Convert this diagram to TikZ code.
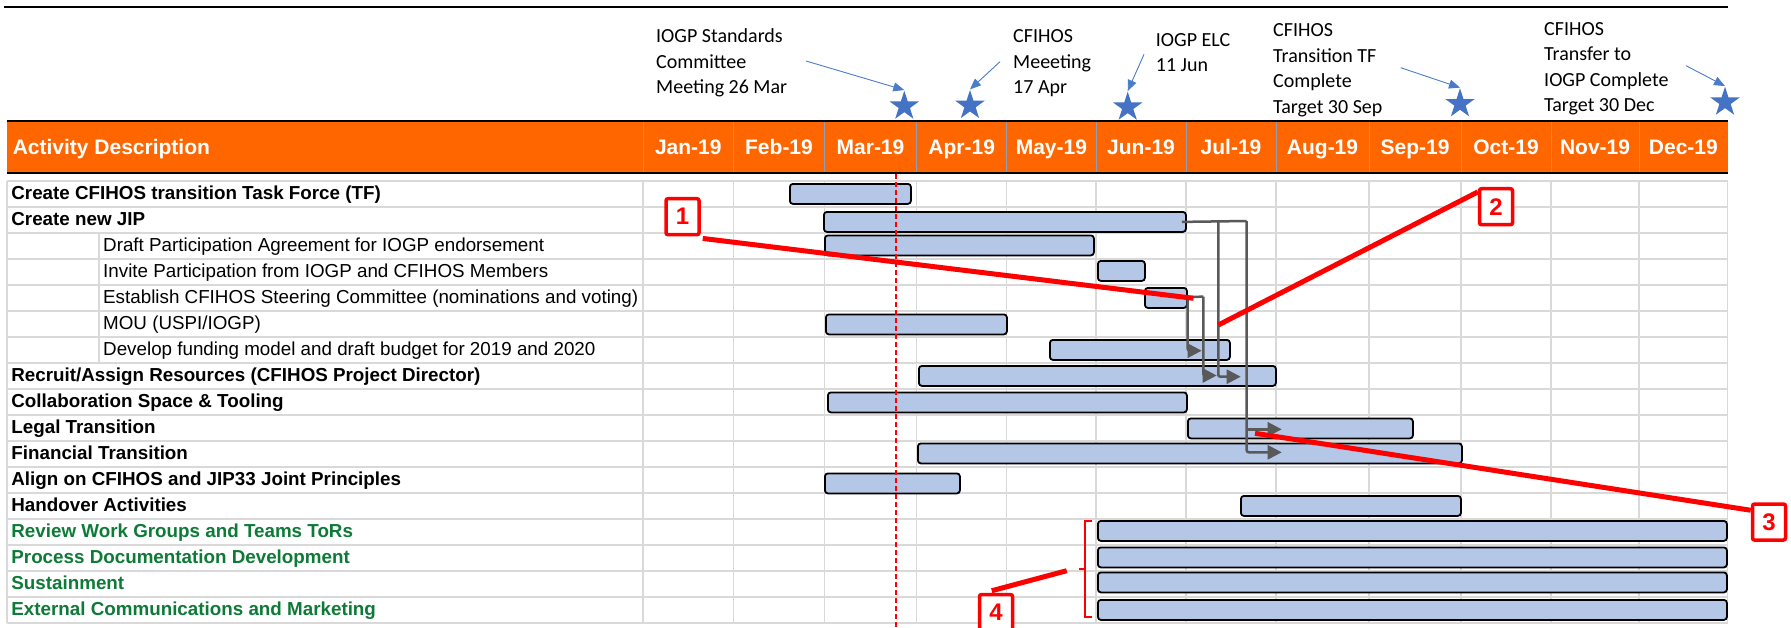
\documentclass[tikz,border=0pt]{standalone}
\usepackage{fontspec}
\setmainfont{Liberation Sans}
\newfontfamily\calfont{Carlito}
\usetikzlibrary{shapes.geometric,arrows.meta}
\definecolor{hdr}{HTML}{FF6600}
\definecolor{barfill}{HTML}{B4C7E7}
\definecolor{starblue}{HTML}{4472C4}
\definecolor{annblue}{HTML}{4A7CCB}
\definecolor{depgray}{HTML}{595959}
\definecolor{gridc}{HTML}{D9D9D9}
\definecolor{taskgreen}{HTML}{0E7A37}
\definecolor{calred}{HTML}{FF0000}
\definecolor{sepc}{HTML}{8E9DB8}
\begin{document}
\begin{tikzpicture}[x=1pt,y=-1pt,
  lbl/.style={anchor=base west,inner sep=0pt,font=\fontsize{18.8}{22}\selectfont},
  mainlbl/.style={lbl,font=\fontsize{18.8}{22}\selectfont\bfseries},
  greenlbl/.style={mainlbl,text=taskgreen},
  hdrtext/.style={inner sep=0pt,text=white,font=\fontsize{21}{24}\selectfont\bfseries},
  mstext/.style={anchor=north west,inner sep=0pt,align=left,font=\calfont\fontsize{20}{25.5}\selectfont},
  bar/.style={draw=black,line width=1.8pt,rounded corners=3pt,fill=barfill,inner sep=0pt,
              minimum height=20pt,anchor=north west},
  dep/.style={draw=depgray,line width=2.5pt,rounded corners=2pt},
  deparrow/.style={dep,-{Triangle[length=14pt,width=14pt]}},
  ann/.style={draw=annblue,line width=0.9pt,-{Triangle[length=11pt,width=9pt]}},
  mstar/.style={star,star points=5,star point ratio=2.618,minimum size=31pt,inner sep=0pt,fill=starblue,draw=none},
  callbox/.style={draw=calred,line width=3.5pt,fill=white,rounded corners=2pt,minimum width=33pt,
                  minimum height=36pt,inner sep=0pt,text=calred,font=\fontsize{24}{24}\selectfont\bfseries},
  callline/.style={draw=calred,line width=5pt},
  gridline/.style={draw=gridc,line width=1.3pt}
]
\useasboundingbox (0,0) rectangle (1791,627);
% top rule
\draw[line width=2pt] (4,7) -- (1727.7,7);
% grid
\foreach \i in {0,...,17} {\draw[gridline] (7,181+26*\i) -- (1727.7,181+26*\i);}
\foreach \x in {7,643,733.6,824.3,916.7,1006.7,1096,1186,1276,1369,1461,1551,1639,1727.7}
  {\draw[gridline] (\x,181) -- (\x,623);}
\draw[gridline] (99,233) -- (99,363);
% header
\fill[hdr] (7,121) rectangle (1727.7,173);
\foreach \x in {643,733.6,824.3,916.7,1006.7,1096,1186,1276,1369,1461,1551,1639}
  {\draw[sepc,line width=0.8pt] (\x,121) -- (\x,173);}
\draw[line width=1.2pt] (7,121) -- (1727.7,121);
\draw[line width=1.8pt] (7,173) -- (1727.7,173);
\node[hdrtext,anchor=base west] (hd) at (12.6,154.5) {Activity Description};
\node[hdrtext,anchor=base] (m1) at (688.3,154.5) {Jan-19};
\node[hdrtext,anchor=base] (m2) at (779,154.5) {Feb-19};
\node[hdrtext,anchor=base] (m3) at (870.5,154.5) {Mar-19};
\node[hdrtext,anchor=base] (m4) at (961.7,154.5) {Apr-19};
\node[hdrtext,anchor=base] (m5) at (1051.4,154.5) {May-19};
\node[hdrtext,anchor=base] (m6) at (1141,154.5) {Jun-19};
\node[hdrtext,anchor=base] (m7) at (1231,154.5) {Jul-19};
\node[hdrtext,anchor=base] (m8) at (1322.5,154.5) {Aug-19};
\node[hdrtext,anchor=base] (m9) at (1415,154.5) {Sep-19};
\node[hdrtext,anchor=base] (m10) at (1506,154.5) {Oct-19};
\node[hdrtext,anchor=base] (m11) at (1595,154.5) {Nov-19};
\node[hdrtext,anchor=base] (m12) at (1683.4,154.5) {Dec-19};
% row labels
\node[mainlbl] (l1) at (11.2,199.5) {Create CFIHOS transition Task Force (TF)};
\node[mainlbl] (l2) at (11.2,225.5) {Create new JIP};
\node[lbl] (l3) at (103,251.5) {Draft Participation Agreement for IOGP endorsement};
\node[lbl] (l4) at (103,277.5) {Invite Participation from IOGP and CFIHOS Members};
\node[lbl] (l5) at (103,303.5) {Establish CFIHOS Steering Committee (nominations and voting)};
\node[lbl] (l6) at (103,329.5) {MOU (USPI/IOGP)};
\node[lbl] (l7) at (103,355.5) {Develop funding model and draft budget for 2019 and 2020};
\node[mainlbl] (l8) at (11.2,381.5) {Recruit/Assign Resources (CFIHOS Project Director)};
\node[mainlbl] (l9) at (11.2,407.5) {Collaboration Space \& Tooling};
\node[mainlbl] (l10) at (11.2,433.5) {Legal Transition};
\node[mainlbl] (l11) at (11.2,459.5) {Financial Transition};
\node[mainlbl] (l12) at (11.2,485.5) {Align on CFIHOS and JIP33 Joint Principles};
\node[mainlbl] (l13) at (11.2,511.5) {Handover Activities};
\node[greenlbl] (l14) at (11.2,537.5) {Review Work Groups and Teams ToRs};
\node[greenlbl] (l15) at (11.2,563.5) {Process Documentation Development};
\node[greenlbl] (l16) at (11.2,589.5) {Sustainment};
\node[greenlbl] (l17) at (11.2,615.5) {External Communications and Marketing};
% bars
\node[bar,minimum width=121pt] (b1) at (789,183) {};
\node[bar,minimum width=362pt] (b2) at (823,211) {};
\node[bar,minimum width=269pt] (b3) at (824,234.5) {};
\node[bar,minimum width=47pt] (b4) at (1097,260) {};
\node[bar,minimum width=42pt] (b5) at (1144,287) {};
\node[bar,minimum width=181pt] (b6) at (825,313.5) {};
\node[bar,minimum width=180pt] (b7) at (1049,339) {};
\node[bar,minimum width=357pt] (b8) at (918,365) {};
\node[bar,minimum width=359pt] (b9) at (827,391.5) {};
\node[bar,minimum width=225pt] (b10) at (1187,417.5) {};
\node[bar,minimum width=544pt] (b11) at (917,442.5) {};
\node[bar,minimum width=135pt] (b12) at (824,472.5) {};
\node[bar,minimum width=220pt] (b13) at (1240,495) {};
\node[bar,minimum width=629pt] (b14) at (1097,520) {};
\node[bar,minimum width=629pt] (b15) at (1097,546.5) {};
\node[bar,minimum width=629pt] (b16) at (1097,571.5) {};
\node[bar,minimum width=629pt] (b17) at (1097,599) {};
% today line
\draw[calred,line width=1.3pt,dash pattern=on 5pt off 3pt] (896,174) -- (896,627);
% dependency connectors
\coordinate (jr) at (1246.7,221);
\coordinate (jm) at (1218.3,221);
\coordinate (tl) at (1281.7,429.3);
\coordinate (tf) at (1281.7,452.3);
\coordinate (tr2) at (1240.7,376.7);
\coordinate (es) at (1187.7,296.7);
\coordinate (er) at (1203.3,296.7);
\coordinate (tr1) at (1216.7,375.5);
\coordinate (td) at (1201.7,350.7);
\draw[dep] ([xshift=-5pt]b2.east) -- (jr);
\draw[deparrow] (jr) |- (tf);
\draw[deparrow] (1246.7,429.3) -- (tl);
\draw[deparrow] (jm) |- (tr2);
\draw[dep] ([xshift=-3pt,yshift=1pt]b5.east) -- (er);
\draw[deparrow] (er) |- (tr1);
\draw[deparrow] (es) |- (td);
% milestone texts
\node[mstext] (t1) at (656,24.65) {\strut IOGP Standards\\Committee\\Meeting 26 Mar};
\node[mstext] (t2) at (1013,24.65) {\strut CFIHOS\\Meeeting\\17 Apr};
\node[mstext] (t3) at (1155.7,27.95) {\strut IOGP ELC\\11 Jun};
\node[mstext] (t4) at (1273,18.65) {\strut CFIHOS\\Transition TF\\Complete\\Target 30 Sep};
\node[mstext] (t5) at (1544,16.95) {\strut CFIHOS\\Transfer to\\IOGP Complete\\Target 30 Dec};
% stars
\node[mstar] (s1) at (904.3,106.2) {};
\node[mstar] (s2) at (970,105.5) {};
\node[mstar] (s3) at (1127.7,107.2) {};
\node[mstar] (s4) at (1460,103.8) {};
\node[mstar] (s5) at (1725,102.2) {};
\coordinate (a1) at (806,61);
\coordinate (a2) at (1000,61.7);
\coordinate (a3) at (1144,54.3);
\coordinate (a4) at (1400.7,67.7);
\coordinate (a5) at (1686,65.7);
\draw[ann] (a1) -- (s1.north);
\draw[ann] (a2) -- (s2.north);
\draw[ann] (a3) -- (s3.north);
\draw[ann] (a4) -- (s4.north);
\draw[ann] (a5) -- (s5.north);
% callouts
\coordinate (r1e) at (1193.5,298.3);
\coordinate (r2e) at (1218.3,325);
\coordinate (r3s) at (1255,433.3);
\coordinate (r4e) at (1066.7,570.7);
\node[callbox] (c1) at (682.5,216.7) {1};
\node[callbox] (c2) at (1496,206.7) {2};
\node[callbox] (c3) at (1769,522) {3};
\node[callbox] (c4) at (996,612.5) {4};
\draw[callline] ([xshift=2pt,yshift=-2pt]c1.south east) -- (r1e);
\draw[callline] ([yshift=-5pt]c2.north west) -- (r2e);
\draw[callline] (r3s) -- ([yshift=-8pt]c3.north west);
\draw[callline] ([xshift=14pt,yshift=2pt]c4.north west) -- (r4e);
% brace
\draw[calred,line width=2pt] (1092,520.7) -- (1085,520.7) -- (1085,617.3) -- (1092,617.3);
\draw[calred,line width=2pt] (1085,569) -- (1079,569);
\end{tikzpicture}
\end{document}
